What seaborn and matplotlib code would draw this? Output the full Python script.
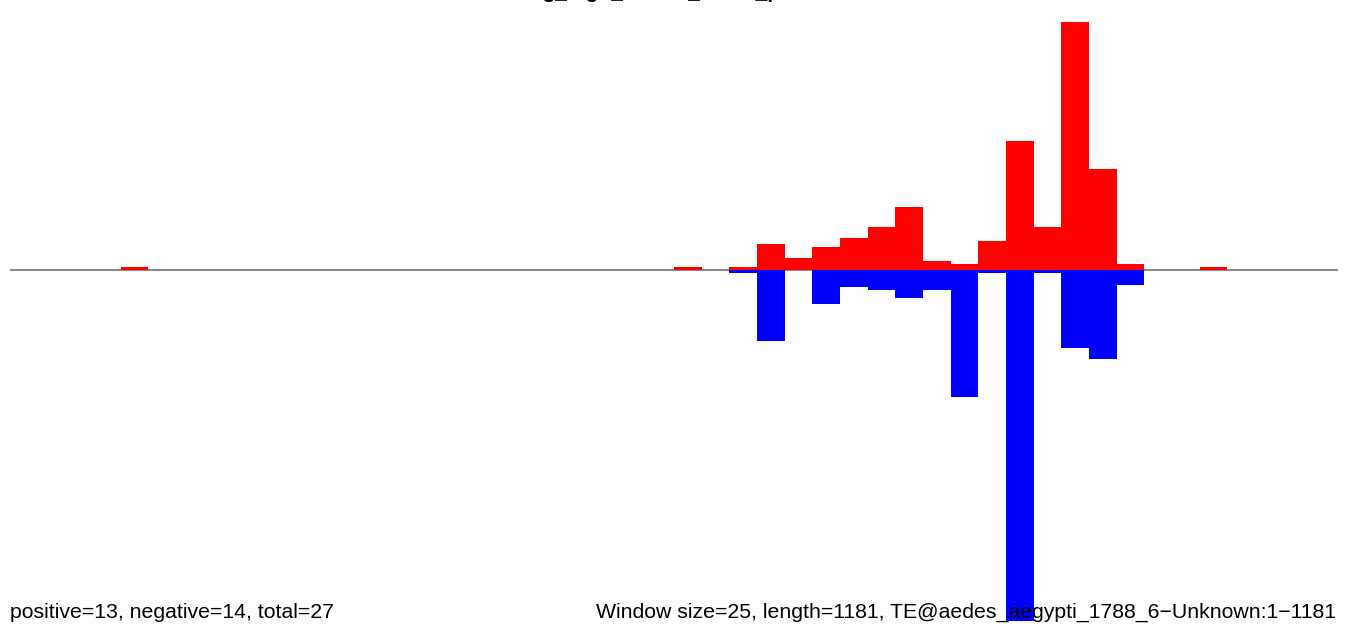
import numpy as np
import pandas as pd
import matplotlib
matplotlib.use('Agg')
import matplotlib.pyplot as plt
import seaborn as sns

# window data (window size 25 over 1181 bp -> 48 windows)
window = 25
seq_len = 1181
n_windows = 48

pos_bins = [4, 24, 26, 27, 28, 29, 30, 31, 32, 33, 34, 35, 36, 37, 38, 39, 40, 43]
pos_vals = [0.9, 0.9, 1.0, 9.3, 4.2, 8.2, 11.5, 15.6, 22.8, 3.1, 2.1, 10.5, 46.7, 15.5, 90.0, 36.5, 2.0, 0.9]

neg_bins = [26, 27, 29, 30, 31, 32, 33, 34, 35, 36, 37, 38, 39, 40]
neg_vals = [1.1, 26.0, 12.7, 6.5, 7.6, 10.5, 7.6, 46.4, 1.3, 127.8, 1.3, 28.4, 32.5, 5.5]

footer_left = 'positive=13, negative=14, total=27'
footer_right = 'Window size=25, length=1181, TE@aedes_aegypti_1788_6\u2212Unknown:1\u22121181'
title = 'sig_logo_scaled_reads_plot'

pos_df = pd.DataFrame({'pos': [b * window + window / 2 for b in pos_bins], 'val': pos_vals})
neg_df = pd.DataFrame({'pos': [b * window + window / 2 for b in neg_bins], 'val': [-v for v in neg_vals]})

sns.set_style('white')
plt.rcParams['font.family'] = ['Liberation Sans', 'DejaVu Sans']

fig = plt.figure(figsize=(13.5, 6.36), dpi=100)
ax = fig.add_axes([10 / 1350, 15 / 636, 1328 / 1350, 599 / 636])

ax.axhline(0, color='#8c8c8c', lw=1.5, zorder=0)
sns.barplot(data=pos_df, x='pos', y='val', native_scale=True, width=1,
            color='#ff0000', saturation=1, linewidth=0, errorbar=None, ax=ax)
sns.barplot(data=neg_df, x='pos', y='val', native_scale=True, width=1,
            color='#0000ff', saturation=1, linewidth=0, errorbar=None, ax=ax)

ax.set_xlim(0, n_windows * window)
ax.set_ylim(-max(neg_vals), max(pos_vals))
ax.set_axis_off()

# title sits mostly above the canvas, only descenders show
fig.text(0.493, 1 + 2 / 636, title, ha='center', va='baseline',
         fontsize=15, fontweight='bold', color='black')
fig.text(10 / 1350, 18 / 636, footer_left, ha='left', va='baseline',
         fontsize=15.3, color='black')
fig.text(1336 / 1350, 18 / 636, footer_right, ha='right', va='baseline',
         fontsize=15.3, color='black')

fig.savefig('out.png', dpi=100)
